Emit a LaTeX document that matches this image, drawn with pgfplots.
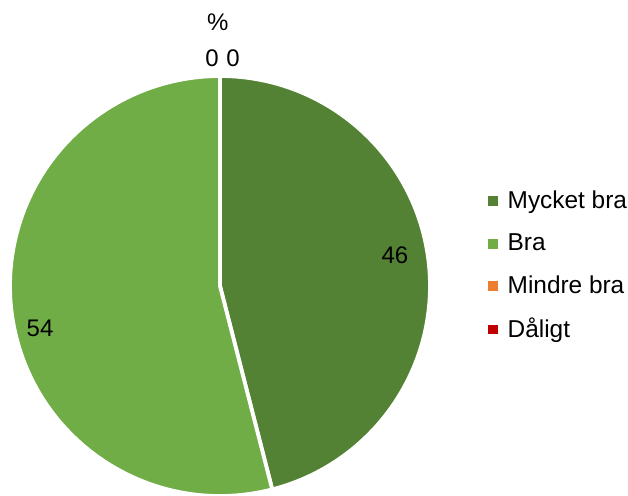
\documentclass[border=0pt]{standalone}
\usepackage{pgfplots}
\pgfplotsset{compat=1.18}
\usepackage{pgfplotstable}
\usepackage{fontspec}
\setmainfont{Liberation Sans}
\definecolor{c1}{HTML}{548235}
\definecolor{c2}{HTML}{70AD47}
\definecolor{c3}{HTML}{ED7D31}
\definecolor{c4}{HTML}{C00000}
\pgfplotstableread{
label value color
{Mycket bra} 46 c1
Bra 54 c2
{Mindre bra} 0 c3
Dåligt 0 c4
}\piedata
\begin{document}
\begin{tikzpicture}[font=\fontsize{12}{14}\selectfont]
\useasboundingbox (0,0) rectangle (314pt,247.5pt);
\begin{axis}[at={(5pt,-0.5pt)}, anchor=south west,
  scale only axis, width=210pt, height=210pt,
  xmin=-1, xmax=1, ymin=-1, ymax=1, hide axis, clip=false,
  legend style={draw=none, fill=none, at={(1.125,0.548)}, anchor=west,
    row sep=7pt, font=\fontsize{12.2}{14}\selectfont},
  legend cell align=left]
\def\cum{90}
\pgfplotsforeachungrouped \i in {0,...,3}{%
  \pgfplotstablegetelem{\i}{value}\of\piedata \let\v\pgfplotsretval
  \pgfplotstablegetelem{\i}{color}\of\piedata \let\c\pgfplotsretval
  \pgfmathsetmacro\endang{\cum-3.6*\v}%
  \ifdim \v pt>0pt
    \edef\temp{\noexpand\fill[\c, draw=white, line width=1.9pt, line join=round] (axis cs:0,0) -- ++(\cum:105pt) arc[start angle=\cum, end angle=\endang, radius=105pt] -- cycle;}%
    \temp
  \fi
  \global\let\cum\endang
}
\addlegendimage{only marks, mark=square*, mark size=2.2pt, c1, draw=none}
\addlegendentry{\hspace{3pt}Mycket bra}
\addlegendimage{only marks, mark=square*, mark size=2.2pt, c2, draw=none}
\addlegendentry{\hspace{3pt}Bra}
\addlegendimage{only marks, mark=square*, mark size=2.2pt, c3, draw=none}
\addlegendentry{\hspace{3pt}Mindre bra}
\addlegendimage{only marks, mark=square*, mark size=2.2pt, c4, draw=none}
\addlegendentry{\hspace{3pt}Dåligt}
\node at (axis cs:0.833,0.148) {46};
\node at (axis cs:-0.857,-0.2) {54};
\node at (axis cs:-0.038,1.086) {0};
\node at (axis cs:0.062,1.086) {0};
\node at (axis cs:-0.01,1.257) {\%};
\end{axis}
\end{tikzpicture}
\end{document}
